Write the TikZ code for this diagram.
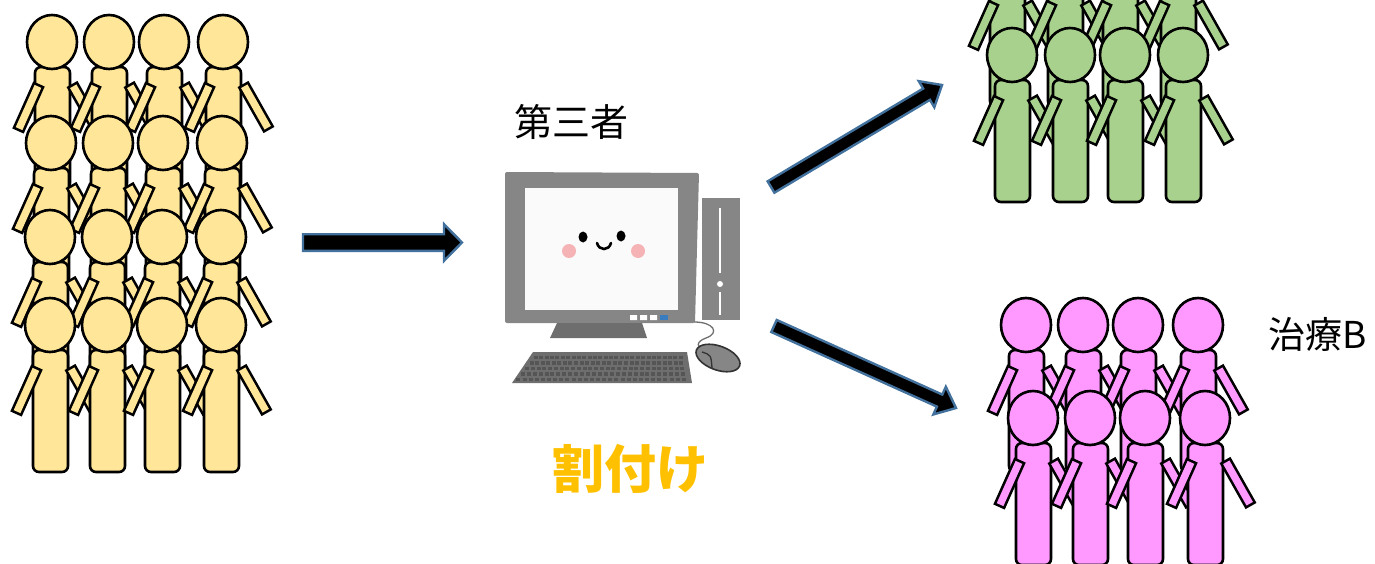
\documentclass[tikz,border=0pt]{standalone}
\usepackage{fontspec}
\usepackage{tikz}
\usetikzlibrary{calc}
\newfontfamily\cjk{Noto Sans CJK JP}

\definecolor{crowdyellow}{HTML}{FFE699}
\definecolor{crowdgreen}{HTML}{A9D18E}
\definecolor{crowdpink}{HTML}{FF99FF}
\definecolor{arrowedge}{HTML}{41719C}
\definecolor{allocgold}{HTML}{FFC000}
\definecolor{pcgrey}{HTML}{868686}
\definecolor{pcdark}{HTML}{6E6E6E}
\definecolor{keydark}{HTML}{555555}
\definecolor{cheek}{HTML}{F5B3B6}
\definecolor{ledblue}{HTML}{3A7CC0}

\tikzset{
	outline/.style = {draw = black, line width = 2.6pt},
	arrowbody/.style = {fill = black, draw = arrowedge, line width = 2.4pt, line join = miter},
}

% one person, head centre at (#1,#2)
\newcommand{\person}[3]{
	\begin{scope}[shift = {(#1,#2)}]
		\filldraw[outline, fill = #3, rounded corners = 6pt] (-17,25) rectangle (18,147);
		\draw[line width = 12.5pt] (-13,42) -- (-34,89);
		\draw[line width = 7.3pt, #3, shorten <= 2.6pt, shorten >= 2.6pt] (-13,42) -- (-34,89);
		\draw[line width = 12.5pt] (20,42) -- (46,88);
		\draw[line width = 7.3pt, #3, shorten <= 2.6pt, shorten >= 2.6pt] (20,42) -- (46,88);
		\filldraw[outline, fill = #3] (0,0) ellipse (25 and 27);
	\end{scope}
}

% block arrow from #1 to #2, half widths #3 (shaft) and #4 (head)
\newcommand{\blockarrow}[4]{
	\coordinate (headbase) at ($(#2)!18pt!(#1)$);
	\filldraw[arrowbody] ($(#1)!#3!90:(#2)$) -- ($(headbase)!#3!90:(#2)$) -- ($(headbase)!#4!90:(#2)$) -- (#2)
		-- ($(headbase)!#4!-90:(#2)$) -- ($(headbase)!#3!-90:(#2)$) -- ($(#1)!#3!-90:(#2)$) -- cycle;
}

\begin{document}
\begin{tikzpicture}[x = 1pt, y = -1pt]
		\useasboundingbox (0,0) rectangle (1375,564);
		\clip (0,0) rectangle (1375,564);
		
		% everyone before allocation
		\foreach \y/\dx in {42/2, 143/1, 237/0, 325/0}
			\foreach \x in {50,107,162,221}
				\person{\x+\dx}{\y}{crowdyellow};
		
		% treatment A group
		\foreach \y/\dx in {-40/-5, 55/0}
			\foreach \x in {1012,1070,1125,1183}
				\person{\x+\dx}{\y}{crowdgreen};
		
		% treatment B group
		\foreach \y/\dx in {325/-7, 418/0}
			\foreach \x in {1033,1090,1145,1205}
				\person{\x+\dx}{\y}{crowdpink};
		
		% computer
		\fill[pcgrey, rounded corners = 2pt] (505,172) -- (699,173) -- (695,323) -- (505,323) -- cycle;
		\fill[white!98!black] (525,188) rectangle (678,310);
		\fill[pcdark] (557,323) -- (642,323) -- (647,338) -- (550,338) -- cycle;
		\fill[white] (630,315) rectangle (637,320) (640,315) rectangle (647,320) (650,315) rectangle (657,320);
		\fill[ledblue] (660,315) rectangle (668,320);
		\fill[pcgrey] (702,198) rectangle (740,320);
		\draw[white, line width = 2pt] (720,208) -- (720,273) (720,292) -- (720,315);
		\fill[white] (720,284) circle (3);
		\draw[pcdark, line width = 1.3pt] (694,322) .. controls (714,322) and (720,333) .. (706,338) .. controls (695,342) and (697,348) .. (704,350);
		\filldraw[fill = pcgrey, draw = black!80, line width = 1.6pt, rotate around = {-20:(718,358)}] (718,358) ellipse (23 and 12);
		\draw[black!80, line width = 1.3pt] (702,352) .. controls (711,355) .. (712,368);
		\fill[pcdark] (533,352) -- (687,352) -- (692,383) -- (512,383) -- cycle;
		\foreach \r in {0,...,4}
			\foreach \c in {0,...,27}
				\fill[keydark] ({534-\r*4.4+\c*(150+\r*5.4)/28}, {355.5+\r*5.5}) rectangle ++(4,3.5);
		
		% face on the screen
		\fill (583,237) ellipse (4.5 and 5.5);
		\fill (621,236) ellipse (4.5 and 5.5);
		\draw[line width = 2.6pt, line cap = round] (597,243) .. controls (599,251) and (609,251) .. (611,243);
		\fill[cheek] (569,251) circle (7);
		\fill[cheek] (638,251) circle (7);
		
		% arrows
		\coordinate (inTail) at (303,242.5);
		\coordinate (inTip) at (462,242.5);
		\coordinate (toATail) at (771,187);
		\coordinate (toATip) at (942,85);
		\coordinate (toBTail) at (774,326);
		\coordinate (toBTip) at (956,408);
		\blockarrow{inTail}{inTip}{8.3pt}{18.3pt}
		\blockarrow{toATail}{toATip}{6.6pt}{15.2pt}
		\blockarrow{toBTail}{toBTip}{6.6pt}{15.2pt}
		
		% labels
		\node[anchor = base, font = \cjk\fontsize{38}{40}\selectfont] (thirdparty) at (571,137) {第三者};
		\node[anchor = base, font = \cjk\bfseries\fontsize{52}{54}\selectfont, text = allocgold] (allocation) at (630,488) {割付け};
		\node[anchor = base, font = \cjk\fontsize{37}{40}\selectfont] (treatmentB) at (1318,348) {治療B};
\end{tikzpicture}
\end{document}
